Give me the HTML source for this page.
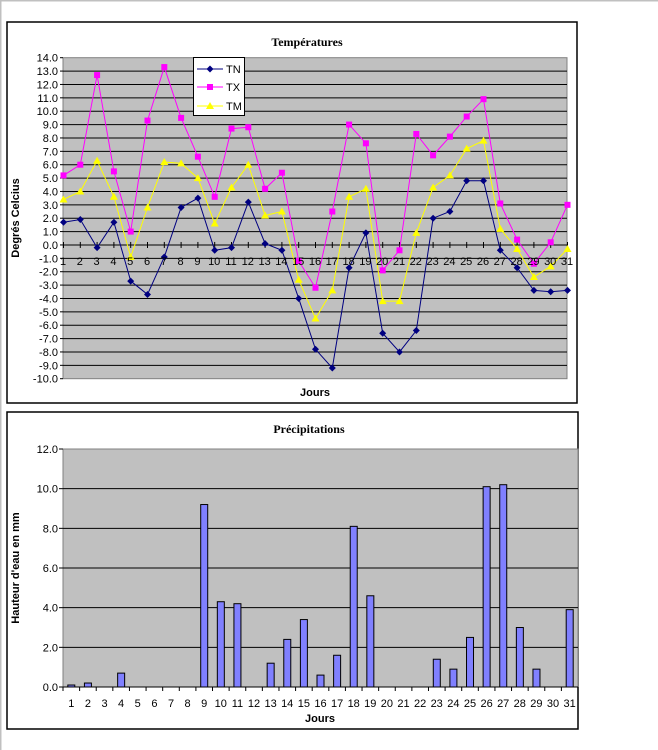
<!DOCTYPE html>
<html><head><meta charset="utf-8"><style>
html,body{margin:0;padding:0;background:#fff;width:658px;height:750px;overflow:hidden}
svg{display:block;font-family:"Liberation Sans",Arial,sans-serif}
</style></head><body>
<svg id="s" width="658" height="750" xmlns="http://www.w3.org/2000/svg">
<line x1="0.5" y1="0" x2="0.5" y2="750" stroke="#c0c0c0" stroke-width="2"/>
<line x1="0" y1="0.5" x2="658" y2="0.5" stroke="#c0c0c0" stroke-width="2"/>
<!-- chart 1 -->
<rect x="7" y="22" width="570" height="381" fill="#fff" stroke="#000" stroke-width="1.5"/>
<rect x="63" y="57.7" width="504" height="321" fill="#c0c0c0" stroke="#808080"/>
<g id="g1"></g>
<text x="307" y="46" font-family="Liberation Serif,serif" font-weight="bold" font-size="12" text-anchor="middle">Températures</text>
<g font-size="11" text-anchor="end">
<text x="58" y="61.7">14.0</text><text x="58" y="75.1">13.0</text><text x="58" y="88.5">12.0</text><text x="58" y="101.8">11.0</text><text x="58" y="115.2">10.0</text><text x="58" y="128.6">9.0</text><text x="58" y="142">8.0</text><text x="58" y="155.3">7.0</text><text x="58" y="168.7">6.0</text><text x="58" y="182.1">5.0</text><text x="58" y="195.5">4.0</text><text x="58" y="208.8">3.0</text><text x="58" y="222.2">2.0</text><text x="58" y="235.6">1.0</text><text x="58" y="249">0.0</text><text x="58" y="262.3">-1.0</text><text x="58" y="275.7">-2.0</text><text x="58" y="289.1">-3.0</text><text x="58" y="302.5">-4.0</text><text x="58" y="315.8">-5.0</text><text x="58" y="329.2">-6.0</text><text x="58" y="342.6">-7.0</text><text x="58" y="356">-8.0</text><text x="58" y="369.3">-9.0</text><text x="58" y="382.7">-10.0</text>
</g>
<g font-size="11" text-anchor="middle">
<text x="63" y="265">1</text><text x="79.8" y="265">2</text><text x="96.6" y="265">3</text><text x="113.4" y="265">4</text><text x="130.2" y="265">5</text><text x="147" y="265">6</text><text x="163.8" y="265">7</text><text x="180.6" y="265">8</text><text x="197.4" y="265">9</text><text x="214.2" y="265">10</text><text x="231" y="265">11</text><text x="247.8" y="265">12</text><text x="264.6" y="265">13</text><text x="281.4" y="265">14</text><text x="298.2" y="265">15</text><text x="315" y="265">16</text><text x="331.8" y="265">17</text><text x="348.6" y="265">18</text><text x="365.4" y="265">19</text><text x="382.2" y="265">20</text><text x="399" y="265">21</text><text x="415.8" y="265">22</text><text x="432.6" y="265">23</text><text x="449.4" y="265">24</text><text x="466.2" y="265">25</text><text x="483" y="265">26</text><text x="499.8" y="265">27</text><text x="516.6" y="265">28</text><text x="533.4" y="265">29</text><text x="550.2" y="265">30</text><text x="567" y="265">31</text>
</g>
<text x="315" y="396" font-size="11" font-weight="bold" text-anchor="middle">Jours</text>
<text transform="translate(19,218) rotate(-90)" font-size="11" font-weight="bold" text-anchor="middle">Degrés Celcius</text>
<!-- legend -->
<rect x="193.5" y="57.5" width="51" height="58" fill="#fff" stroke="#000"/>
<line x1="197" y1="69" x2="223" y2="69" stroke="#000080"/><path d="M210 65.5L213.5 69L210 72.5L206.5 69Z" fill="#000080"/>
<line x1="197" y1="87" x2="223" y2="87" stroke="#ff00ff"/><rect x="207" y="84" width="6" height="6" fill="#ff00ff"/>
<line x1="197" y1="106" x2="223" y2="106" stroke="#ffff00"/><path d="M210 102L214 109L206 109Z" fill="#ffff00"/>
<g font-size="11"><text x="226" y="73">TN</text><text x="226" y="91">TX</text><text x="226" y="110">TM</text></g>
<!-- chart 2 -->
<rect x="7" y="412" width="571" height="317" fill="#fff" stroke="#000" stroke-width="1.5"/>
<rect x="63" y="449" width="515" height="238" fill="#c0c0c0" stroke="#808080"/>
<g id="g2"></g>
<text x="309" y="433" font-family="Liberation Serif,serif" font-weight="bold" font-size="12" text-anchor="middle">Précipitations</text>
<g font-size="11" text-anchor="end">
<text x="58" y="453">12.0</text><text x="58" y="492.7">10.0</text><text x="58" y="532.3">8.0</text><text x="58" y="572">6.0</text><text x="58" y="611.7">4.0</text><text x="58" y="651.3">2.0</text><text x="58" y="691">0.0</text>
</g>
<g font-size="11" text-anchor="middle">
<text x="71.3" y="707">1</text><text x="87.9" y="707">2</text><text x="104.5" y="707">3</text><text x="121.1" y="707">4</text><text x="137.7" y="707">5</text><text x="154.4" y="707">6</text><text x="171" y="707">7</text><text x="187.6" y="707">8</text><text x="204.2" y="707">9</text><text x="220.8" y="707">10</text><text x="237.4" y="707">11</text><text x="254" y="707">12</text><text x="270.6" y="707">13</text><text x="287.2" y="707">14</text><text x="303.9" y="707">15</text><text x="320.5" y="707">16</text><text x="337.1" y="707">17</text><text x="353.7" y="707">18</text><text x="370.3" y="707">19</text><text x="386.9" y="707">20</text><text x="403.5" y="707">21</text><text x="420.1" y="707">22</text><text x="436.7" y="707">23</text><text x="453.4" y="707">24</text><text x="470" y="707">25</text><text x="486.6" y="707">26</text><text x="503.2" y="707">27</text><text x="519.8" y="707">28</text><text x="536.4" y="707">29</text><text x="553" y="707">30</text><text x="569.6" y="707">31</text>
</g>
<text x="320" y="722" font-size="11" font-weight="bold" text-anchor="middle">Jours</text>
<text transform="translate(19,568) rotate(-90)" font-size="11" font-weight="bold" text-anchor="middle">Hauteur d'eau en mm</text>
</svg>
<script>
var NS="http://www.w3.org/2000/svg";
function el(p,t,a){var e=document.createElementNS(NS,t);for(var k in a)e.setAttribute(k,a[k]);p.appendChild(e);return e;}
var g1=document.getElementById("g1"),g2=document.getElementById("g2");
function Y1(v){return 57.7+(14-v)*13.375;}
function X1(i){return 63.5+i*16.8;}
for(var v=13;v>=-9;v--)el(g1,"line",{x1:63,x2:567,y1:Y1(v),y2:Y1(v),stroke:"#000"});
el(g1,"line",{x1:63,x2:567,y1:Y1(0),y2:Y1(0),stroke:"#000"});
for(var i=0;i<31;i++)el(g1,"line",{x1:X1(i),x2:X1(i),y1:Y1(0)-3,y2:Y1(0)+3,stroke:"#000"});
for(var v=14;v>=-10;v--)el(g1,"line",{x1:60,x2:63,y1:Y1(v),y2:Y1(v),stroke:"#000"});
var TN=[1.7,1.9,-0.2,1.7,-2.7,-3.7,-0.9,2.8,3.5,-0.4,-0.2,3.2,0.1,-0.4,-4.0,-7.8,-9.2,-1.7,0.9,-6.6,-8.0,-6.4,2.0,2.5,4.8,4.8,-0.4,-1.7,-3.4,-3.5,-3.4];
var TX=[5.2,6.0,12.7,5.5,1.0,9.3,13.3,9.5,6.6,3.6,8.7,8.8,4.2,5.4,-1.2,-3.2,2.5,9.0,7.6,-1.9,-0.4,8.3,6.7,8.1,9.6,10.9,3.1,0.4,-1.4,0.2,3.0];
var TM=[3.4,4.0,6.3,3.6,-0.9,2.8,6.2,6.1,5.0,1.6,4.3,6.0,2.2,2.5,-2.6,-5.5,-3.4,3.6,4.2,-4.2,-4.2,0.9,4.3,5.2,7.2,7.8,1.2,-0.3,-2.4,-1.6,-0.3];
function line(d,c){el(g1,"polyline",{points:d.map(function(v,i){return X1(i)+","+Y1(v)}).join(" "),fill:"none",stroke:c});}
line(TN,"#000080");line(TX,"#ff00ff");line(TM,"#ffff00");
TN.forEach(function(v,i){var x=X1(i),y=Y1(v);el(g1,"path",{d:"M"+x+" "+(y-3.5)+"L"+(x+3.5)+" "+y+"L"+x+" "+(y+3.5)+"L"+(x-3.5)+" "+y+"Z",fill:"#000080"});});
TX.forEach(function(v,i){el(g1,"rect",{x:X1(i)-3,y:Y1(v)-3,width:6,height:6,fill:"#ff00ff"});});
TM.forEach(function(v,i){var x=X1(i),y=Y1(v);el(g1,"path",{d:"M"+x+" "+(y-4)+"L"+(x+4)+" "+(y+3)+"L"+(x-4)+" "+(y+3)+"Z",fill:"#ffff00"});});
function Y2(v){return 687-v*19.833;}
for(var v=2;v<=10;v+=2)el(g2,"line",{x1:63,x2:578,y1:Y2(v),y2:Y2(v),stroke:"#000"});
for(var v=0;v<=12;v+=2)el(g2,"line",{x1:59,x2:63,y1:Y2(v),y2:Y2(v),stroke:"#000"});
var W=515/31;
for(var i=0;i<=31;i++)el(g2,"line",{x1:63+i*W,x2:63+i*W,y1:687,y2:691,stroke:"#000"});
var P={1:0.1,2:0.2,4:0.7,9:9.2,10:4.3,11:4.2,13:1.2,14:2.4,15:3.4,16:0.6,17:1.6,18:8.1,19:4.6,23:1.4,24:0.9,25:2.5,26:10.1,27:10.2,28:3.0,29:0.9,31:3.9};
for(var k in P){var c=63+(k-0.5)*W;el(g2,"rect",{x:c-3.5,y:Y2(P[k]),width:7,height:P[k]*19.833,fill:"#8080ff",stroke:"#000"});}
el(g2,"line",{x1:63,x2:578,y1:687,y2:687,stroke:"#000"});
</script>
</body></html>
